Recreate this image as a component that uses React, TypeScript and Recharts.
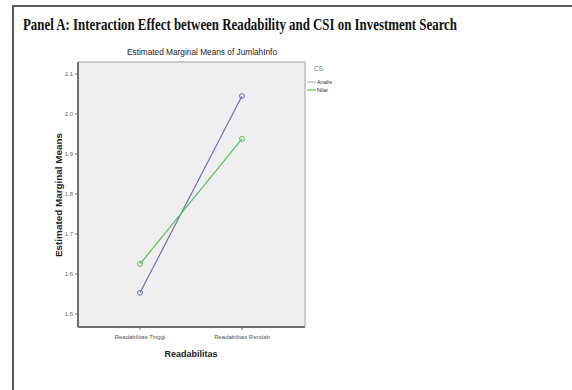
import { CartesianGrid, Line, LineChart, XAxis, YAxis } from "recharts";

// Estimated marginal means of JumlahInfo by readability level, one line per CS group
const categories = ["Readabilitas Tinggi", "Readabilitas Rendah"];
const analisMeans = [1.553, 2.045];
const nilaiMeans = [1.625, 1.938];
const yTicks = [1.5, 1.6, 1.7, 1.8, 1.9, 2.0, 2.1];
const seriesNames = ["Analis", "Nilai"];

const data = categories.map((name, i) => ({
    name,
    analis: analisMeans[i],
    nilai: nilaiMeans[i],
}));

const BLUE = "#6d72b8";
const GREEN = "#5cbf5c";
const AXIS = "#6e6e6e";
const FRAME = "#a0a0a0";
const SANS = "'Liberation Sans', Arial, sans-serif";
const Y_DOMAIN: [number, number] = [1.4675, 2.13];

export default function App() {
    return (
        <div style={{ position: "fixed", top: 0, left: 0, width: 572, height: 390, background: "#fff" }}>
            <LineChart
                width={572}
                height={390}
                data={data}
                margin={{ top: 42, right: 247, bottom: 43, left: 58 }}
            >
                <CartesianGrid horizontal={false} vertical={false} fill="#efefef" fillOpacity={1} />
                <XAxis
                    dataKey="name"
                    height={20}
                    padding={{ left: 62, right: 63 }}
                    axisLine={{ stroke: AXIS, strokeWidth: 2 }}
                    tickLine={{ stroke: AXIS }}
                    tickSize={3}
                    tick={{ fontSize: 6, fill: "#555", fontFamily: SANS, dy: 3 }}
                    interval={0}
                />
                {/* top and right edges of the plot frame */}
                <XAxis
                    xAxisId="top"
                    orientation="top"
                    dataKey="name"
                    height={20}
                    axisLine={{ stroke: FRAME, strokeWidth: 1 }}
                    tick={false}
                    tickLine={false}
                />
                <YAxis
                    yAxisId="right"
                    orientation="right"
                    width={20}
                    domain={Y_DOMAIN}
                    axisLine={{ stroke: FRAME, strokeWidth: 1 }}
                    tick={false}
                    tickLine={false}
                />
                <YAxis
                    width={20}
                    domain={Y_DOMAIN}
                    ticks={yTicks}
                    tickFormatter={(v: number) => v.toFixed(1)}
                    axisLine={{ stroke: AXIS, strokeWidth: 2 }}
                    tickLine={{ stroke: AXIS }}
                    tickSize={3}
                    tick={{ fontSize: 6, fill: "#666", fontFamily: SANS }}
                    allowDataOverflow
                />
                <Line
                    dataKey="analis"
                    name={seriesNames[0]}
                    stroke={BLUE}
                    strokeWidth={1.2}
                    dot={{ r: 2.5, fill: "none", stroke: BLUE, strokeWidth: 1 }}
                    isAnimationActive={false}
                />
                <Line
                    dataKey="nilai"
                    name={seriesNames[1]}
                    stroke={GREEN}
                    strokeWidth={1.2}
                    dot={{ r: 2.5, fill: "none", stroke: GREEN, strokeWidth: 1 }}
                    isAnimationActive={false}
                />
            </LineChart>

            {/* panel frame, titles, axis titles and legend */}
            <svg
                width={572}
                height={390}
                style={{ position: "absolute", top: 0, left: 0, pointerEvents: "none" }}
            >
                <path d="M13 390 V6 H572" fill="none" stroke="#5a5a5a" strokeWidth={2} />
                <text
                    x={23}
                    y={30}
                    fontFamily="'Liberation Serif', 'Times New Roman', serif"
                    fontWeight="bold"
                    fontSize={17}
                    fill="#111"
                    textLength={434}
                    lengthAdjust="spacingAndGlyphs"
                >
                    Panel A: Interaction Effect between Readability and CSI on Investment Search
                </text>
                <text
                    x={202}
                    y={55}
                    textAnchor="middle"
                    fontFamily={SANS}
                    fontSize={8.5}
                    fill="#222"
                    textLength={150}
                    lengthAdjust="spacingAndGlyphs"
                >
                    Estimated Marginal Means of JumlahInfo
                </text>
                <text
                    transform="translate(62 195) rotate(-90)"
                    textAnchor="middle"
                    fontFamily={SANS}
                    fontWeight="bold"
                    fontSize={9.5}
                    fill="#222"
                    textLength={124}
                    lengthAdjust="spacingAndGlyphs"
                >
                    Estimated Marginal Means
                </text>
                <text x={191} y={357} textAnchor="middle" fontFamily={SANS} fontWeight="bold" fontSize={9} fill="#222">
                    Readabilitas
                </text>
                <text x={314} y={71} fontFamily={SANS} fontSize={6.5} fill="#777">
                    CS
                </text>
                <line x1={307} y1={82} x2={316} y2={82} stroke="#aaa" strokeWidth={1} />
                <text x={317} y={84} fontFamily={SANS} fontSize={5.5} fill="#333">
                    {seriesNames[0]}
                </text>
                <line x1={307} y1={90} x2={316} y2={90} stroke={GREEN} strokeWidth={1.2} />
                <text x={317} y={92} fontFamily={SANS} fontSize={5.5} fill="#333">
                    {seriesNames[1]}
                </text>
            </svg>
        </div>
    );
}
